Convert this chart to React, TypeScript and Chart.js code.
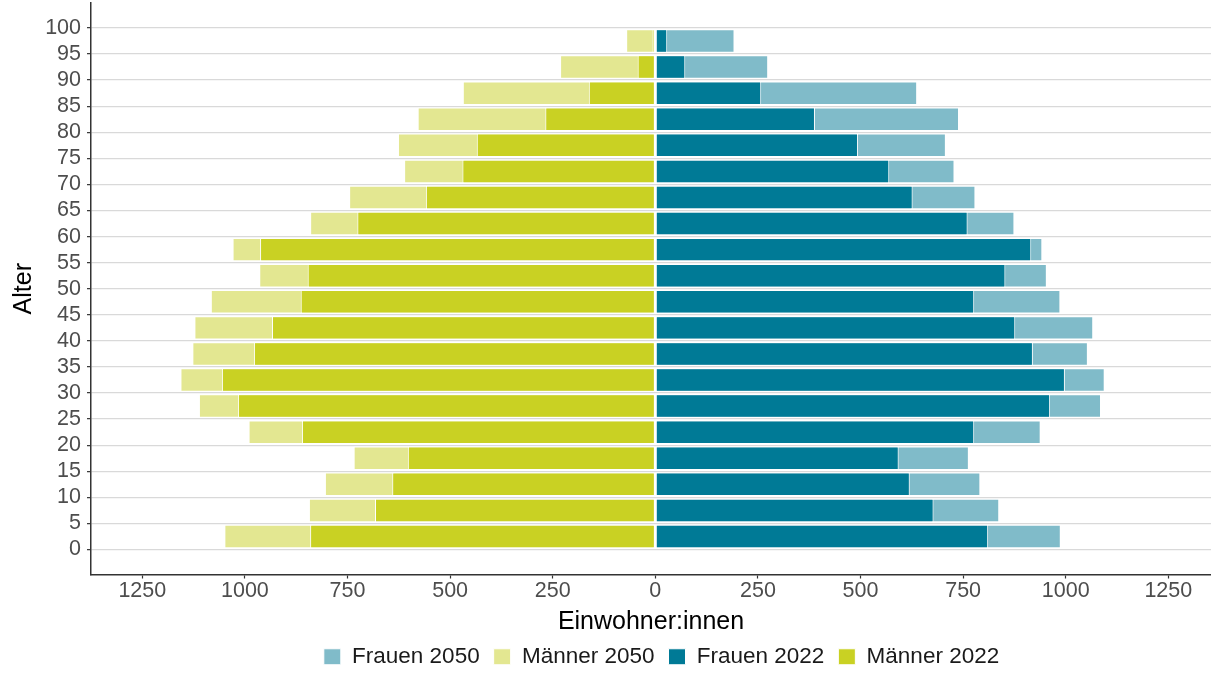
import React, { useEffect, useRef } from 'react';
import { Chart, registerables } from 'chart.js';

Chart.register(...registerables);

// Age groups (lower bound of each 5-year band), bottom to top
const ageGroups = [0, 5, 10, 15, 20, 25, 30, 35, 40, 45, 50, 55, 60, 65, 70, 75, 80, 85, 90, 95];
const ageTicks = [0, 5, 10, 15, 20, 25, 30, 35, 40, 45, 50, 55, 60, 65, 70, 75, 80, 85, 90, 95, 100];
const xTicks = [-1250, -1000, -750, -500, -250, 0, 250, 500, 750, 1000, 1250];

const frauen2022 = [811, 678, 620, 593, 777, 962, 998, 920, 877, 777, 853, 916, 761, 627, 570, 494, 389, 258, 73, 29];
const frauen2050 = [988, 838, 792, 764, 939, 1086, 1095, 1054, 1067, 987, 954, 943, 875, 780, 729, 708, 740, 638, 275, 193];
const maenner2022 = [841, 683, 641, 603, 861, 1017, 1056, 978, 934, 864, 847, 963, 726, 559, 470, 435, 268, 162, 43, 7];
const maenner2050 = [1050, 844, 805, 735, 991, 1112, 1157, 1128, 1123, 1083, 965, 1030, 841, 746, 612, 627, 579, 469, 232, 71];

const legendOrder = ['Frauen 2050', 'Männer 2050', 'Frauen 2022', 'Männer 2022'];

const FONT = '"Liberation Sans", Arial, Helvetica, sans-serif';

// centre the legend under the panel rather than the whole canvas
const legendShift = {
  id: 'legendShift',
  afterLayout(chart: any) {
    const l = chart.legend;
    if (!l) return;
    const shift = 56;
    l.left += shift;
    l.right += shift;
  },
};

export default function App() {
  const ref = useRef<HTMLCanvasElement | null>(null);

  useEffect(() => {
    if (!ref.current) return;
    const toPoints = (vals: number[], sign: number) =>
      vals.map((v, i) => ({ x: sign * v, y: ageGroups[i] + 2.5 }));

    const barBase = {
      borderColor: '#ffffff',
      borderWidth: 1,
      borderSkipped: false as const,
      barPercentage: 0.9,
      categoryPercentage: 1,
      stack: 'all',
    };

    const chart = new Chart(ref.current, {
      type: 'bar',
      data: {
        datasets: [
          { ...barBase, label: 'Frauen 2022', data: toPoints(frauen2022, 1), backgroundColor: '#007a96' },
          { ...barBase, label: 'Männer 2022', data: toPoints(maenner2022, -1), backgroundColor: '#c9d123' },
          { ...barBase, label: 'Frauen 2050', data: toPoints(frauen2050, 1), backgroundColor: '#80bbc9' },
          { ...barBase, label: 'Männer 2050', data: toPoints(maenner2050, -1), backgroundColor: '#e3e791' },
        ] as any,
      },
      plugins: [legendShift],
      options: {
        indexAxis: 'y',
        responsive: false,
        animation: false,
        layout: { padding: { top: 3, left: 0, right: 0, bottom: -5 } },
        scales: {
          x: {
            type: 'linear',
            min: -1375,
            max: 1354,
            stacked: false,
            offset: false,
            afterBuildTicks: (s: any) => {
              s.ticks = xTicks.map((v) => ({ value: v }));
            },
            afterFit: (s: any) => {
              s.height = 57;
              s.paddingLeft = 0;
              s.paddingRight = 0;
            },
            ticks: {
              callback: (v: any) => String(Math.abs(Number(v))),
              font: { family: FONT, size: 21.5 },
              color: '#4d4d4d',
              padding: 0,
              maxRotation: 0,
              autoSkip: false,
            },
            grid: { drawOnChartArea: false, offset: false, tickLength: 4, tickColor: '#333333', tickWidth: 1.2 },
            border: { color: '#333333', width: 1.5 },
            title: {
              display: true,
              text: 'Einwohner:innen',
              font: { family: FONT, size: 25, lineHeight: 1 },
              color: '#000000',
              padding: { top: 0, bottom: -3 },
            },
          },
          y: {
            type: 'linear',
            min: -4.79,
            max: 104.79,
            stacked: true,
            offset: false,
            afterBuildTicks: (s: any) => {
              s.ticks = ageTicks.map((v) => ({ value: v }));
            },
            afterFit: (s: any) => {
              s.width = 91;
              s.paddingTop = 0;
              s.paddingBottom = 0;
            },
            ticks: {
              font: { family: FONT, size: 21.5 },
              color: '#4d4d4d',
              padding: 6,
              autoSkip: false,
            },
            grid: { color: '#d9d9d9', lineWidth: 1.3, offset: false, tickLength: 4, tickColor: '#333333', tickWidth: 1.2 },
            border: { color: '#333333', width: 1.5 },
            title: {
              display: true,
              text: 'Alter',
              font: { family: FONT, size: 25, lineHeight: 1 },
              color: '#000000',
              padding: { top: 12, bottom: 0 },
            },
          },
        },
        plugins: {
          legend: {
            position: 'bottom',
            labels: {
              font: { family: FONT, size: 22.5 },
              color: '#1a1a1a',
              boxWidth: 17,
              boxHeight: 16,
              padding: 14,
              sort: (a: any, b: any) => legendOrder.indexOf(a.text) - legendOrder.indexOf(b.text),
            },
          },
          tooltip: { enabled: false },
        },
      } as any,
    });
    return () => chart.destroy();
  }, []);

  return (
    <div style={{ position: 'fixed', left: 0, top: 0, width: 1211, height: 673, background: '#ffffff' }}>
      <canvas ref={ref} width={1211} height={673} style={{ display: 'block' }} />
    </div>
  );
}
